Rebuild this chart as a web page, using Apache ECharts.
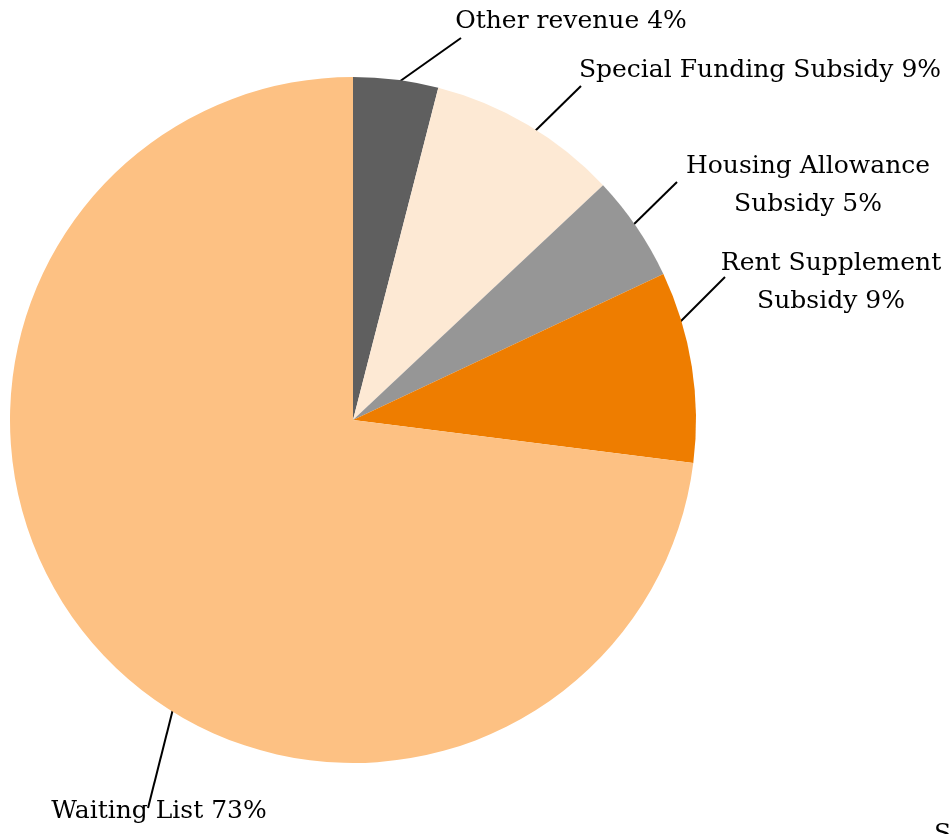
<!DOCTYPE html>
<html>
<head>
<meta charset="utf-8">
<script src="https://cdn.jsdelivr.net/npm/echarts@6/dist/echarts.min.js"></script>
<style>
  html, body { margin: 0; padding: 0; background: #ffffff; }
  #chart { width: 951px; height: 834px; }
</style>
</head>
<body>
<div id="chart"></div>
<script>
// Revenue sources, share in percent (clockwise from 12 o'clock)
const categories = ['Other revenue', 'Special Funding Subsidy', 'Housing Allowance\nSubsidy', 'Rent Supplement\nSubsidy', 'Waiting List'];
const shares = [4, 9, 5, 9, 73];
const sliceColors = ['#5f5f5f', '#fde9d4', '#969696', '#ee7d00', '#fdc183'];

// Where each label sits (text centre) and where its leader line starts / ends
const labelSpots = [
  { x: 571, y: 21,  from: [389, 89],  to: [461, 38] },
  { x: 760, y: 70,  from: [533, 133], to: [581, 86] },
  { x: 808, y: 185, from: [628, 230], to: [677, 182] },
  { x: 831, y: 282, from: [677, 325], to: [725, 277] },
  { x: 159, y: 811, from: [173, 709], to: [148, 808] }
];

const chart = echarts.init(document.getElementById('chart'), null, { renderer: 'canvas' });

chart.setOption({
  backgroundColor: '#ffffff',
  animation: false,
  series: [{
    type: 'pie',
    center: [353, 420],
    radius: [0, 343],
    startAngle: 90,
    clockwise: true,
    avoidLabelOverlap: false,
    data: categories.map((name, i) => ({
      name: name,
      value: shares[i],
      itemStyle: { color: sliceColors[i] }
    })),
    label: {
      show: true,
      formatter: p => p.name + ' ' + p.value + '%',
      fontFamily: 'DejaVu Serif',
      fontSize: 25,
      color: '#000000',
      align: 'center',
      lineHeight: 38
    },
    labelLine: {
      show: true,
      length: 20,
      length2: 0,
      lineStyle: { color: '#000000', width: 2 }
    },
    labelLayout: function (params) {
      const s = labelSpots[params.dataIndex];
      return {
        x: s.x,
        y: s.y,
        align: 'center',
        verticalAlign: 'middle',
        labelLinePoints: [s.from, s.to, s.to]
      };
    }
  }],
  graphic: [{
    type: 'text',
    left: 934,
    top: 822,
    style: {
      text: 'Source',
      font: '25px "DejaVu Serif"',
      fill: '#000000'
    }
  }]
});
</script>
</body>
</html>
